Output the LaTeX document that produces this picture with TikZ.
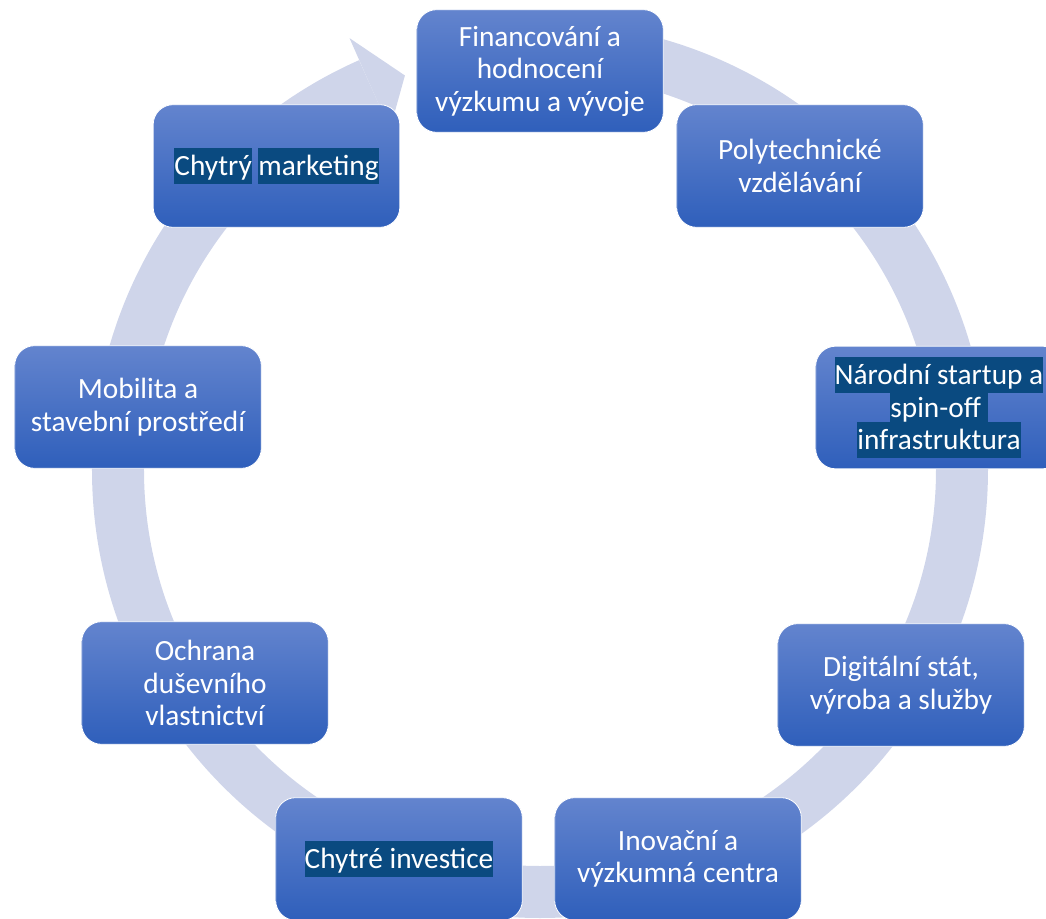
\documentclass[tikz,border=0pt]{standalone}
\usepackage{fontspec}
\setmainfont{Carlito}

\definecolor{ringgray}{HTML}{CFD5EA}
\definecolor{stagetop}{HTML}{6384CE}
\definecolor{stagemid}{HTML}{4674C6}
\definecolor{stagebot}{HTML}{2F5FBB}
\definecolor{hlblue}{HTML}{0A4A80}
\newcommand{\stagefont}{\fontsize{22}{24.4}\selectfont\lineskiplimit=-50pt\relax}
\newcommand{\hlword}[1]{{\setlength{\fboxsep}{0pt}\colorbox{hlblue}{\rule[-6.5pt]{0pt}{27.5pt}#1}}}

\begin{document}
\begin{tikzpicture}[x=0.75pt, y=0.75pt,
  stage/.style={rectangle, rounded corners=15pt, draw=white, line width=0.6pt,
    top color=stagetop, middle color=stagemid, bottom color=stagebot,
    minimum width=185pt, minimum height=92pt, align=center, text=white,
    font=\stagefont},
  ring/.style={ringgray, line width=39pt}]
\useasboundingbox (-540,-448) rectangle (506,470);
% circular arrow
\draw[ring] (90:422) arc[start angle=90, end angle=-246.2, radius=422];
\fill[ringgray] (113.8:472) -- (108.9:417) -- (113.8:372) -- cycle;
% stages
\node[stage] (fin) at (0,399) {Financování a\\ hodnocení\\ výzkumu a vývoje};
\node[stage] (poly) at (260,304) {Polytechnické\\ vzdělávání};
\node[stage] (start) at (399,62.5) {\hlword{Národní startup a}\\ \hlword{spin-off }\\ \hlword{infrastruktura}};
\node[stage] (digi) at (361,-215) {Digitální stát,\\ výroba a služby};
\node[stage] (inov) at (138,-389) {Inovační a\\ výzkumná centra};
\node[stage] (invest) at (-141,-389) {\hlword{Chytré investice}};
\node[stage] (ochr) at (-335,-213) {Ochrana\\ duševního\\ vlastnictví};
\node[stage] (mobil) at (-402,63) {Mobilita a\\ stavební prostředí};
\node[stage] (mark) at (-263.5,304) {\hlword{Chytrý} \hlword{marketing}};
\end{tikzpicture}
\end{document}
